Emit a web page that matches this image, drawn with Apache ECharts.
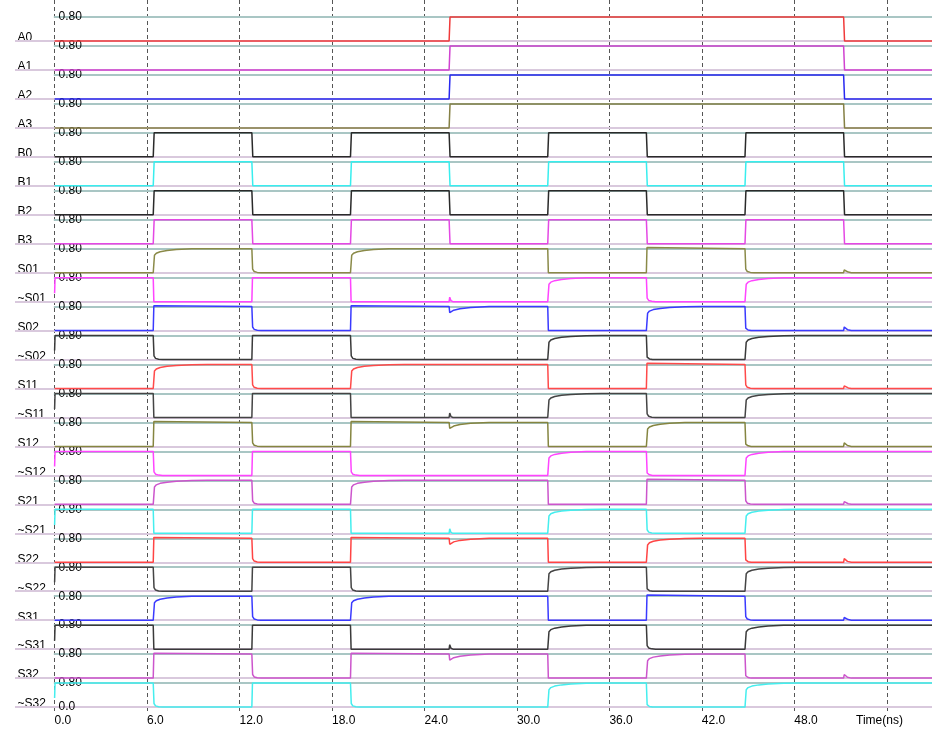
<!DOCTYPE html>
<html>
<head>
<meta charset="utf-8">
<script src="https://cdn.jsdelivr.net/npm/echarts@6/dist/echarts.min.js"></script>
<style>
html,body{margin:0;padding:0;background:#fff;}
#chart{width:932px;height:734px;}
</style>
</head>
<body>
<div id="chart"></div>
<script>
// ---------- data ----------
const signalNames = ['A0','A1','A2','A3','B0','B1','B2','B3',
  'S01','~S01','S02','~S02','S11','~S11','S12','~S12',
  'S21','~S21','S22','~S22','S31','~S31','S32','~S32'];

const signalColors = ['#f03a3a','#d042d0','#2828f0','#858045','#2a2a2a','#38eeee','#2a2a2a','#e448e4',
  '#8a8a48','#ff44ff','#3a3aff','#3a3a3a','#ff4a4a','#444444','#858540','#ff44ff',
  '#cc55cc','#44eeee','#ff4444','#444444','#3a3aff','#3a3a3a','#cc55cc','#44eeee'];

const xTickLabels = ['0.0','6.0','12.0','18.0','24.0','30.0','36.0','42.0','48.0'];
const timeMax = 57;
const levelHigh = 0.8;

// A inputs: high between 25.6 and 51.2 ns
const waveA = [[0,0],[25.6,0],[25.66,0.8],[51.2,0.8],[51.26,0],[57,0]];

// B inputs: toggle every 6.4 ns
const waveB = [[0,0],[6.4,0],[6.46,0.8],[12.8,0.8],[12.86,0],[19.2,0],[19.26,0.8],
  [25.6,0.8],[25.66,0],[32.0,0],[32.06,0.8],[38.4,0.8],[38.46,0],[44.8,0],[44.86,0.8],
  [51.2,0.8],[51.26,0],[57,0]];

// S?1 outputs
const waveS1 = [[0,0],[6.4,0],[6.48,0.58],[6.6,0.65],[6.85,0.7],[7.3,0.74],[7.9,0.77],[8.9,0.795],[9.9,0.8],
  [12.8,0.8],[12.85,0.12],[12.95,0.04],[13.15,0.01],[13.4,0],
  [19.2,0],[19.28,0.58],[19.4,0.65],[19.65,0.7],[20.1,0.74],[20.7,0.77],[21.7,0.795],[22.7,0.8],
  [32.0,0.8],[32.04,0],
  [38.4,0],[38.44,0.84],[38.52,0.8],
  [44.8,0.8],[44.85,0.12],[44.95,0.04],[45.15,0.01],[45.4,0],
  [51.2,0],[51.24,0.09],[51.5,0.02],[51.7,0],[57,0]];

// ~S?1 outputs
const waveNS1 = [[0,0.28],[0.03,0.8],[6.4,0.8],[6.44,0],[12.8,0],[12.84,0.8],[19.2,0.8],[19.24,0],
  [25.6,0],[25.64,0.15],[25.72,0.03],[25.85,0],
  [32.0,0],[32.08,0.58],[32.2,0.65],[32.45,0.7],[32.9,0.74],[33.5,0.77],[34.5,0.795],[35.5,0.8],
  [38.4,0.8],[38.45,0.12],[38.55,0.04],[38.75,0.01],[39.0,0],
  [44.8,0],[44.88,0.58],[45.0,0.65],[45.25,0.7],[45.7,0.74],[46.3,0.77],[47.3,0.795],[48.3,0.8],
  [57,0.8]];

// S?2 outputs
const waveS2 = [[0,0],[6.4,0],[6.44,0.83],[6.52,0.8],
  [12.8,0.8],[12.85,0.12],[12.95,0.04],[13.15,0.01],[13.4,0],
  [19.2,0],[19.24,0.83],[19.32,0.8],
  [25.6,0.8],[25.64,0.6],[25.9,0.68],[26.3,0.73],[27.0,0.77],[28.2,0.8],
  [32.0,0.8],[32.04,0],
  [38.4,0],[38.48,0.58],[38.6,0.65],[38.85,0.7],[39.3,0.74],[39.9,0.77],[40.9,0.795],[41.9,0.8],
  [44.8,0.8],[44.85,0.08],[45.0,0.02],[45.2,0],
  [51.2,0],[51.24,0.12],[51.45,0.03],[51.7,0],[57,0]];

// ~S?2 outputs
const waveNS2 = [[0,0.3],[0.03,0.8],[6.4,0.8],[6.45,0.12],[6.55,0.04],[6.75,0.01],[7.0,0],
  [12.8,0],[12.84,0.8],
  [19.2,0.8],[19.25,0.12],[19.35,0.04],[19.55,0.01],[19.8,0],
  [32.0,0],[32.08,0.58],[32.2,0.65],[32.45,0.7],[32.9,0.74],[33.5,0.77],[34.5,0.795],[35.5,0.8],
  [38.4,0.8],[38.45,0.08],[38.6,0.02],[38.8,0],
  [44.8,0],[44.88,0.58],[45.0,0.65],[45.25,0.7],[45.7,0.74],[46.3,0.77],[47.3,0.795],[48.3,0.8],
  [57,0.8]];

const signalWaves = [waveA, waveA, waveA, waveA, waveB, waveB, waveB, waveB,
  waveS1, waveNS1, waveS2, waveNS2, waveS1, waveNS1, waveS2, waveNS2,
  waveS1, waveNS1, waveS2, waveNS2, waveS1, waveNS1, waveS2, waveNS2];

// ---------- layout / style ----------
const FONT = '"Liberation Sans Narrow", "Arial Narrow", "Liberation Sans", Arial, sans-serif';
const plotLeft = 54.6;
const bandTop0 = 17;
const bandPitch = 28.96;
const bandHeight = 24;
const lowLineColor = '#d9c9dd';
const highLineColor = '#a9c6c4';

const grids = [], xAxes = [], yAxes = [], series = [];

// background grid: time axis + dashed grid lines
grids.push({left: plotLeft, right: -1, top: 0, height: 712, outerBoundsMode: 'none'});
xAxes.push({
  gridIndex: 0, type: 'value', min: 0, max: timeMax, interval: 6,
  axisLine: {show: false}, axisTick: {show: false},
  splitLine: {show: true, lineStyle: {type: [4, 3], color: '#555', width: 1}},
  axisLabel: {
    margin: 3, align: 'left', color: '#000', fontSize: 12, fontFamily: FONT,
    formatter: v => { const k = Math.round(v / 6); return (Math.abs(v - k * 6) < 1e-6 && k < xTickLabels.length) ? xTickLabels[k] : ''; }
  },
  name: 'Time(ns)', nameLocation: 'end', nameGap: -77,
  nameTextStyle: {verticalAlign: 'top', align: 'left', padding: [3, 0, 0, 0], color: '#000', fontSize: 12, fontFamily: FONT}
});
yAxes.push({gridIndex: 0, type: 'value', show: false, min: 0, max: 1});

signalNames.forEach((name, i) => {
  const g = i + 1;
  const last = i === signalNames.length - 1;
  grids.push({left: plotLeft, right: -1, top: bandTop0 + i * bandPitch, height: bandHeight, outerBoundsMode: 'none'});
  // bottom (0 level) line
  xAxes.push({gridIndex: g, type: 'value', min: 0, max: timeMax, position: 'bottom',
    axisLine: {show: true, onZero: false, lineStyle: {color: lowLineColor, width: 2}},
    axisTick: {show: false}, axisLabel: {show: false}, splitLine: {show: false}});
  // top (0.80 level) line
  xAxes.push({gridIndex: g, type: 'value', min: 0, max: timeMax, position: 'top',
    axisLine: {show: true, onZero: false, lineStyle: {color: highLineColor, width: 2}},
    axisTick: {show: false}, axisLabel: {show: false}, splitLine: {show: false}});
  yAxes.push({
    gridIndex: g, type: 'value', min: 0, max: levelHigh, interval: levelHigh,
    axisLine: {show: false}, splitLine: {show: false},
    axisTick: {show: true, customValues: [0], length: plotLeft - 15, inside: false,
      lineStyle: {color: lowLineColor, width: 2}},
    axisLabel: {show: true, inside: true, margin: 4, customValues: last ? [0, levelHigh] : [levelHigh],
      color: '#000', fontSize: 12, fontFamily: FONT, padding: [0, 0, 6, 0],
      formatter: v => v < 0.01 ? '0.0' : '0.80'},
    name: name, nameLocation: 'middle', nameRotate: 0, nameGap: plotLeft - 17.5,
    nameTextStyle: {align: 'left', verticalAlign: 'top', lineHeight: 14, fontSize: 12,
      padding: [2, 0, 0, 0], fontFamily: FONT, color: '#000', backgroundColor: '#fff'}
  });
  series.push({
    name: name, type: 'line', xAxisIndex: 1 + i * 2, yAxisIndex: g,
    data: signalWaves[i], showSymbol: false, symbol: 'none', clip: false,
    lineStyle: {color: signalColors[i], width: 1.5}, silent: true, z: 3
  });
});

const chart = echarts.init(document.getElementById('chart'), null, {renderer: 'canvas'});
chart.setOption({
  animation: false,
  backgroundColor: '#fff',
  grid: grids, xAxis: xAxes, yAxis: yAxes, series: series
});
</script>
</body>
</html>
